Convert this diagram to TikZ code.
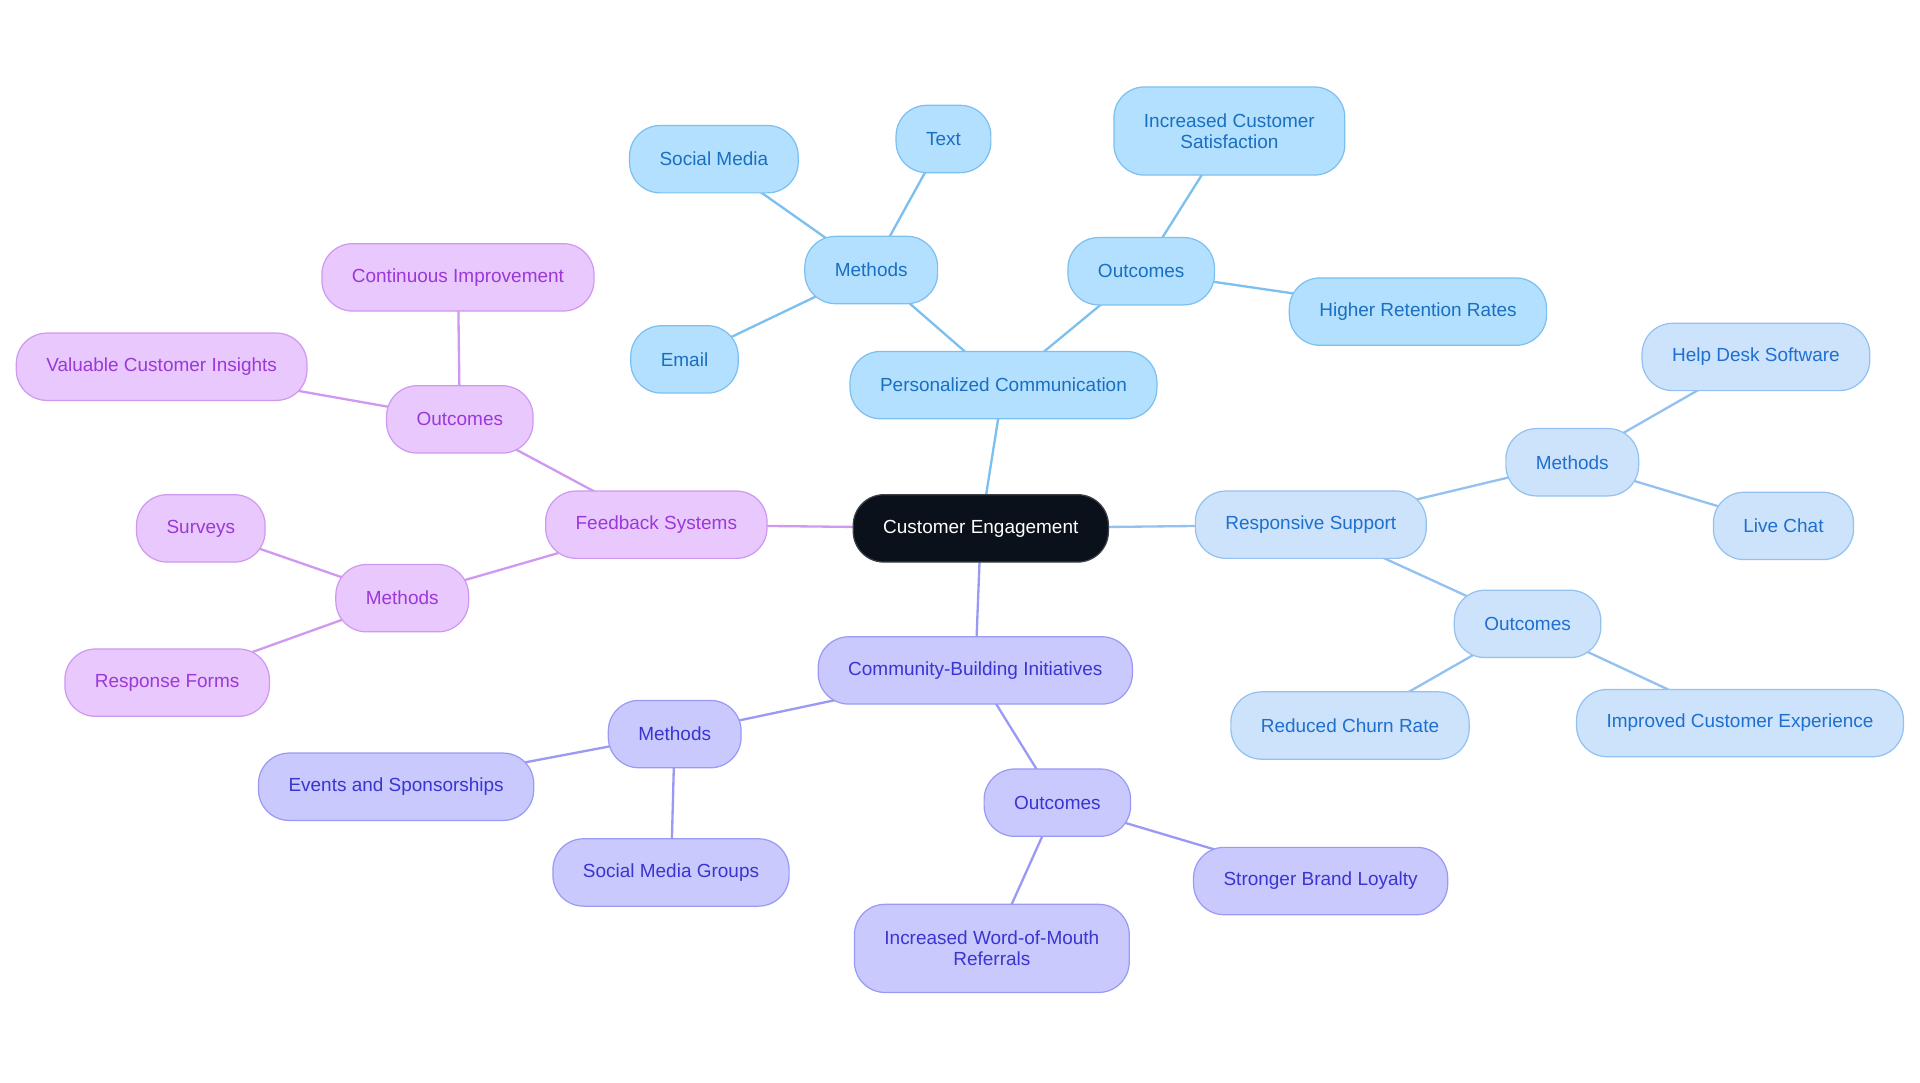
\documentclass[tikz,border=0pt]{standalone}
\usepackage{fontspec}
\setmainfont{Liberation Sans}
\usetikzlibrary{backgrounds}
\definecolor{coreFill}{HTML}{0B111A}
\definecolor{pcFill}{HTML}{B3E0FE}
\definecolor{pcLine}{HTML}{7CC0F0}
\definecolor{pcText}{HTML}{1A6FC0}
\definecolor{rsFill}{HTML}{CCE3FB}
\definecolor{rsLine}{HTML}{94C1F0}
\definecolor{rsText}{HTML}{1E6FD0}
\definecolor{cbFill}{HTML}{C9C9FD}
\definecolor{cbLine}{HTML}{9A9AF5}
\definecolor{cbText}{HTML}{3A35D0}
\definecolor{fbFill}{HTML}{E8C8FD}
\definecolor{fbLine}{HTML}{CF99F0}
\definecolor{fbText}{HTML}{9A38D8}
\begin{document}
\begin{tikzpicture}[x=1pt,y=-1pt,
  bubble/.style = {rounded corners=25pt, minimum height=55pt, inner xsep=24.5pt,
    line width=1pt, align=center, font=\fontsize{15.5}{17}\selectfont},
  core/.style = {bubble, fill=coreFill, draw=coreFill!80!white, text=white},
  pc/.style = {bubble, fill=pcFill, draw=pcLine, text=pcText},
  rs/.style = {bubble, fill=rsFill, draw=rsLine, text=rsText},
  cb/.style = {bubble, fill=cbFill, draw=cbLine, text=cbText},
  fb/.style = {bubble, fill=fbFill, draw=fbLine, text=fbText},
  twoline/.style = {minimum height=72pt},
  link/.style = {line width=1.9pt}]
\useasboundingbox (0,0) rectangle (1568,884.4);
%% Mitte
\node[core] (ce) at (801,431.5) {Customer Engagement};
%% Personalized Communication
\node[pc] (pc) at (819.5,314.5) {Personalized Communication};
\node[pc] (pcm) at (711.5,220.5) {Methods};
\node[pc] (pcsm) at (583,130) {Social Media};
\node[pc] (pctx) at (770.5,113.5) {Text};
\node[pc] (pcem) at (559,293.5) {Email};
\node[pc] (pco) at (932,221.5) {Outcomes};
\node[pc,twoline] (pcsat) at (1004,107) {Increased Customer\\Satisfaction};
\node[pc] (pcret) at (1158,254.5) {Higher Retention Rates};
%% Responsive Support
\node[rs] (rs) at (1070.5,428.5) {Responsive Support};
\node[rs] (rsm) at (1284,377.5) {Methods};
\node[rs] (rshd) at (1434,291.5) {Help Desk Software};
\node[rs] (rslc) at (1456.5,429.5) {Live Chat};
\node[rs] (rso) at (1247.5,509.5) {Outcomes};
\node[rs] (rsch) at (1102.5,592.5) {Reduced Churn Rate};
\node[rs] (rsex) at (1421,590.5) {Improved Customer Experience};
%% Community-Building Initiatives
\node[cb] (cb) at (796.5,547.5) {Community-Building Initiatives};
\node[cb] (cbm) at (551,599.5) {Methods};
\node[cb] (cbev) at (323.5,642.5) {Events and Sponsorships};
\node[cb] (cbsg) at (548,712.5) {Social Media Groups};
\node[cb] (cbo) at (863.5,655.5) {Outcomes};
\node[cb] (cbbl) at (1078.5,719.5) {Stronger Brand Loyalty};
\node[cb,twoline] (cbwm) at (810,774.5) {Increased Word-of-Mouth\\Referrals};
%% Feedback Systems
\node[fb] (fb) at (536,428.5) {Feedback Systems};
\node[fb] (fbo) at (375.5,342.5) {Outcomes};
\node[fb] (fbci) at (374,226.5) {Continuous Improvement};
\node[fb] (fbvi) at (132,299.5) {Valuable Customer Insights};
\node[fb] (fbm) at (328.5,488.5) {Methods};
\node[fb] (fbsv) at (164,431.5) {Surveys};
\node[fb] (fbrf) at (136.5,557.5) {Response Forms};
%% Verbindungen
\begin{scope}[on background layer]
\draw[link,pcLine] (ce.center) -- (pc.center);
\draw[link,pcLine] (pc.center) -- (pcm.center);
\draw[link,pcLine] (pcm.center) -- (pcsm.center);
\draw[link,pcLine] (pcm.center) -- (pctx.center);
\draw[link,pcLine] (pcm.center) -- (pcem.center);
\draw[link,pcLine] (pc.center) -- (pco.center);
\draw[link,pcLine] (pco.center) -- (pcsat.center);
\draw[link,pcLine] (pco.center) -- (pcret.center);
\draw[link,rsLine] (ce.center) -- (rs.center);
\draw[link,rsLine] (rs.center) -- (rsm.center);
\draw[link,rsLine] (rsm.center) -- (rshd.center);
\draw[link,rsLine] (rsm.center) -- (rslc.center);
\draw[link,rsLine] (rs.center) -- (rso.center);
\draw[link,rsLine] (rso.center) -- (rsch.center);
\draw[link,rsLine] (rso.center) -- (rsex.center);
\draw[link,cbLine] (ce.center) -- (cb.center);
\draw[link,cbLine] (cb.center) -- (cbm.center);
\draw[link,cbLine] (cbm.center) -- (cbev.center);
\draw[link,cbLine] (cbm.center) -- (cbsg.center);
\draw[link,cbLine] (cb.center) -- (cbo.center);
\draw[link,cbLine] (cbo.center) -- (cbbl.center);
\draw[link,cbLine] (cbo.center) -- (cbwm.center);
\draw[link,fbLine] (ce.center) -- (fb.center);
\draw[link,fbLine] (fb.center) -- (fbo.center);
\draw[link,fbLine] (fbo.center) -- (fbci.center);
\draw[link,fbLine] (fbo.center) -- (fbvi.center);
\draw[link,fbLine] (fb.center) -- (fbm.center);
\draw[link,fbLine] (fbm.center) -- (fbsv.center);
\draw[link,fbLine] (fbm.center) -- (fbrf.center);
\end{scope}
\end{tikzpicture}
\end{document}
